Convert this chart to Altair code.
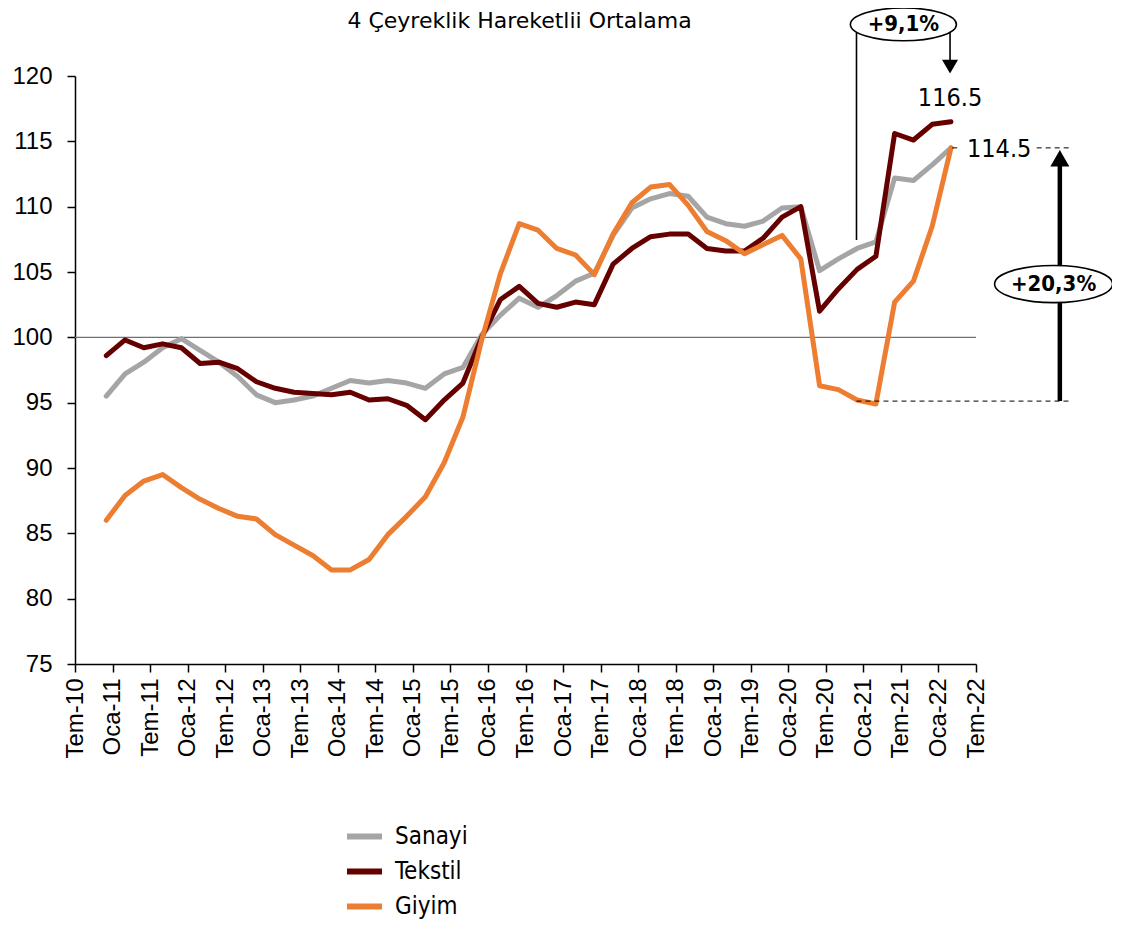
import altair as alt
import pandas as pd

title_text = "4 Çeyreklik Hareketlii Ortalama"
series_names = ["Sanayi", "Tekstil", "Giyim"]
series_colors = ["#A5A5A5", "#660000", "#ED7D31"]

# quarterly periods Dec-2010 ... Mar-2022
periods = [f"{y}-{m:02d}" for y in range(2010, 2023) for m in (3, 6, 9, 12)][3:49]

sanayi = [95.5, 97.2, 98.1, 99.2, 99.9, 99.0, 98.1, 97.0, 95.6, 95.0,
          95.2, 95.5, 96.1, 96.7, 96.5, 96.7, 96.5, 96.1, 97.2, 97.7,
          100.2, 101.7, 103.0, 102.3, 103.2, 104.3, 104.9, 107.8, 109.9, 110.6,
          111.0, 110.8, 109.2, 108.7, 108.5, 108.9, 109.9, 110.0, 105.1, 106.0,
          106.8, 107.3, 112.2, 112.0, 113.2, 114.5]
tekstil = [98.6, 99.8, 99.2, 99.5, 99.2, 98.0, 98.1, 97.6, 96.6, 96.1,
           95.8, 95.7, 95.6, 95.8, 95.2, 95.3, 94.8, 93.7, 95.2, 96.5,
           100.0, 102.9, 103.9, 102.6, 102.3, 102.7, 102.5, 105.6, 106.8, 107.7,
           107.9, 107.9, 106.8, 106.6, 106.6, 107.6, 109.2, 110.0, 102.0, 103.7,
           105.2, 106.2, 115.6, 115.1, 116.3, 116.5]
giyim = [86.0, 87.9, 89.0, 89.5, 88.5, 87.6, 86.9, 86.3, 86.1, 84.9,
         84.1, 83.3, 82.2, 82.2, 83.0, 84.9, 86.3, 87.8, 90.4, 93.9,
         99.8, 104.9, 108.7, 108.2, 106.8, 106.3, 104.8, 107.9, 110.3, 111.5,
         111.7, 110.1, 108.1, 107.4, 106.4, 107.1, 107.8, 106.0, 96.3, 96.0,
         95.2, 94.9, 102.7, 104.3, 108.5, 114.5]

tick_labels = ["Tem-10", "Oca-11", "Tem-11", "Oca-12", "Tem-12", "Oca-13", "Tem-13",
               "Oca-14", "Tem-14", "Oca-15", "Tem-15", "Oca-16", "Tem-16", "Oca-17",
               "Tem-17", "Oca-18", "Tem-18", "Oca-19", "Tem-19", "Oca-20", "Tem-20",
               "Oca-21", "Tem-21", "Oca-22", "Tem-22"]
y_ticks = [75, 80, 85, 90, 95, 100, 105, 110, 115, 120]


def month_index(p):
    y, m = p.split("-")
    return (int(y) - 2010) * 12 + int(m) - 7  # months since Jul-2010


months = [month_index(p) for p in periods]
tick_values = [6 * i for i in range(len(tick_labels))]

rows = []
for name, vals in zip(series_names, [sanayi, tekstil, giyim]):
    for p, mo, v in zip(periods, months, vals):
        rows.append({"period": p, "month": mo, "value": v, "series": name})
df = pd.DataFrame(rows)

label_expr = "[" + ",".join(f"'{t}'" for t in tick_labels) + "][round(datum.value/6)]"

AX_FONT = "Liberation Sans"
TXT_FONT = "DejaVu Sans Condensed, DejaVu Sans"

x_scale = alt.Scale(domain=[0, 144], nice=False, zero=False)
y_scale = alt.Scale(domain=[75, 120], nice=False, zero=False)

x_axis = alt.Axis(values=tick_values, labelExpr=label_expr, labelAngle=270,
                  labelOverlap=False, labelBound=False, labelFlush=False,
                  title=None, grid=False, tickSize=8, tickWidth=1.5,
                  domainWidth=1.5, domainColor="black", tickColor="black",
                  labelColor="black", labelFont=AX_FONT, labelFontSize=24,
                  labelPadding=6)
y_axis = alt.Axis(values=y_ticks, title=None, grid=False, tickSize=8,
                  labelOverlap=False, labelFlush=False,
                  tickWidth=1.5, domainWidth=1.5, domainColor="black",
                  tickColor="black", labelColor="black", labelFont=AX_FONT,
                  labelFontSize=24, labelPadding=15)


def X(field):
    return alt.X(field, scale=x_scale, axis=x_axis)


def Y(field):
    return alt.Y(field, scale=y_scale, axis=y_axis)


color_enc = alt.Color("series:N",
                      scale=alt.Scale(domain=series_names, range=series_colors),
                      legend=alt.Legend(orient="none", legendX=269, legendY=740,
                                        title=None, symbolType="stroke",
                                        symbolSize=1225, symbolStrokeWidth=6,
                                        labelFont=TXT_FONT, labelFontSize=24,
                                        labelColor="black", rowPadding=2,
                                        labelOffset=10))

hline = alt.Chart(pd.DataFrame({"x": [0], "x2": [144], "y": [100]})).mark_rule(
    color="#707070", strokeWidth=1.3).encode(x=X("x:Q"), x2="x2:Q", y=Y("y:Q"))

series_layers = []
for name in series_names:
    series_layers.append(
        alt.Chart(df).transform_filter(alt.datum.series == name).mark_line(
            strokeWidth=5, strokeJoin="round", strokeCap="round").encode(
            x=X("month:Q"), y=Y("value:Q"), color=color_enc, order="month:Q"))

# annotation geometry (in data units)
conn = pd.DataFrame({"x": [124.9, 139.85], "y": [107.45, 123.4], "y2": [123.4, 121.2]})
connector = alt.Chart(conn).mark_rule(color="black", strokeWidth=1.6).encode(
    x=X("x:Q"), y=Y("y:Q"), y2="y2:Q")

small_head = alt.Chart(pd.DataFrame({"x": [139.85], "y": [120.72]})).mark_point(
    shape="triangle-down", size=256, filled=True, color="black", opacity=1).encode(
    x=X("x:Q"), y=Y("y:Q"))

dash = pd.DataFrame({"x": [124.9, 140.2, 153.7], "x2": [159.1, 141.6, 159.1],
                     "y": [95.12, 114.5, 114.5]})
dashed = alt.Chart(dash).mark_rule(color="black", strokeWidth=1, strokeDash=[5, 4]).encode(
    x=X("x:Q"), x2="x2:Q", y=Y("y:Q"))

big_arrow = alt.Chart(pd.DataFrame({"x": [157.4], "y": [95.12], "y2": [113.2]})).mark_rule(
    color="black", strokeWidth=4.5).encode(x=X("x:Q"), y=Y("y:Q"), y2="y2:Q")
big_head = alt.Chart(pd.DataFrame({"x": [157.4], "y": [113.71]})).mark_point(
    shape="triangle-up", size=361, filled=True, color="black", opacity=1).encode(
    x=X("x:Q"), y=Y("y:Q"))

ell1 = "M-1,0A1,0.31,0,1,1,1,0A1,0.31,0,1,1,-1,0Z"
ell2 = "M-1,0A1,0.315,0,1,1,1,0A1,0.315,0,1,1,-1,0Z"
bubble1 = alt.Chart(pd.DataFrame({"x": [132.4], "y": [123.95], "t": ["+9,1%"]}))
bubble2 = alt.Chart(pd.DataFrame({"x": [156.4], "y": [104.08], "t": ["+20,3%"]}))
ellipses = []
for b, shp, sz in [(bubble1, ell1, 106 * 106), (bubble2, ell2, 118 * 118)]:
    ellipses.append(b.mark_point(shape=shp, size=sz, filled=False, fill="white",
                                 fillOpacity=1, stroke="black", strokeWidth=1.6,
                                 opacity=1).encode(x=X("x:Q"), y=Y("y:Q")))
    ellipses.append(b.mark_text(font=TXT_FONT, fontSize=22, fontWeight="bold",
                                color="black", align="center", baseline="middle").encode(
        x=X("x:Q"), y=Y("y:Q"), text="t:N"))

lbl1 = alt.Chart(pd.DataFrame({"x": [139.85], "y": [118.35], "t": ["116.5"]})).mark_text(
    font=TXT_FONT, fontSize=25, color="black", align="center", baseline="middle").encode(
    x=X("x:Q"), y=Y("y:Q"), text="t:N")
lbl2 = alt.Chart(pd.DataFrame({"x": [142.56], "y": [114.41], "t": ["114.5"]})).mark_text(
    font=TXT_FONT, fontSize=25, color="black", align="left", baseline="middle").encode(
    x=X("x:Q"), y=Y("y:Q"), text="t:N")

title = alt.Chart(pd.DataFrame({"x": [71.05], "y": [124.2], "t": [title_text]})).mark_text(
    font="DejaVu Sans", fontSize=22, color="black", align="center", baseline="middle").encode(
    x=X("x:Q"), y=Y("y:Q"), text="t:N")

chart = alt.layer(
    hline, *series_layers, connector, small_head, dashed, big_arrow, big_head,
    *ellipses, lbl1, lbl2, title
).properties(
    width=901, height=588,
    autosize=alt.AutoSizeParams(type="none"),
    padding={"left": 67, "top": 68, "right": 136, "bottom": 256},
    background="white",
).configure_view(stroke=None)

chart.save("out.html", embed_options={"renderer": "svg", "actions": False})
